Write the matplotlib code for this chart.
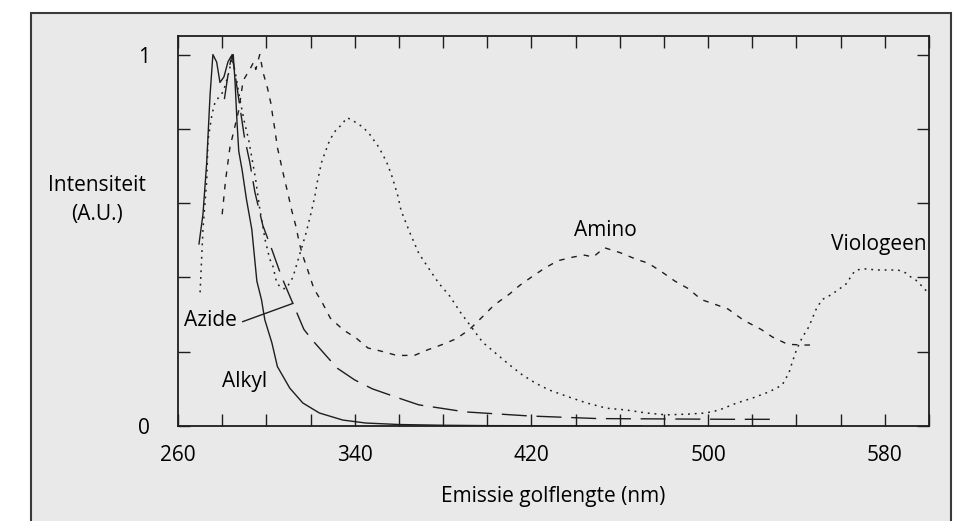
import matplotlib
matplotlib.use("Agg")
import matplotlib.pyplot as plt
from matplotlib.patches import Rectangle
import numpy as np

# emission spectra (wavelength in nm, normalised intensity)
alkyl_nm = [269.5, 271.3, 273, 274.5, 275.8, 277.5, 279, 280.8, 282.6, 284, 285, 285.8, 286.7,
            287.5, 289, 291, 293.4, 295.7, 297.8, 299.3, 302.5, 305, 310.6, 316.5, 324, 334.6,
            345, 360, 380, 400, 470]
alkyl = [0.49, 0.57, 0.71, 0.89, 1.0, 0.98, 0.925, 0.94, 0.98, 0.995, 1.0, 0.93, 0.82,
         0.74, 0.69, 0.61, 0.53, 0.39, 0.34, 0.286, 0.224, 0.16, 0.102, 0.062, 0.035, 0.016,
         0.008, 0.004, 0.002, 0.001, 0.0]

azide_nm = [281, 283, 284.5, 286, 288, 290, 292.5, 294.8, 298.4, 302.5, 307, 312, 317, 321,
            332, 340, 348, 361, 369, 390, 419, 450, 480, 510, 531]
azide = [0.88, 0.96, 1.0, 0.94, 0.86, 0.78, 0.71, 0.63, 0.54, 0.475, 0.40, 0.33, 0.26, 0.23,
         0.156, 0.124, 0.10, 0.073, 0.057, 0.038, 0.027, 0.02, 0.019, 0.018, 0.018]

amino_nm = [280, 281.5, 283.5, 285.5, 287.5, 289.5, 292.5, 294.3, 295.2, 297, 298.6, 300.5,
            302, 303, 303.8, 305, 306.5, 308, 310, 311.5, 313.5, 315, 316.7, 319, 321.5,
            325.5, 329, 334.6, 341, 346, 353, 359, 367, 373, 380, 386, 392, 398, 403, 410,
            415, 421, 426, 432, 439, 444, 448, 453, 460, 467, 473, 479, 485, 491, 497, 502,
            509, 516, 524, 529, 536, 543, 549]
amino = [0.57, 0.66, 0.75, 0.80, 0.85, 0.93, 0.96, 0.98, 0.96, 1.0, 0.95, 0.91,
         0.87, 0.83, 0.80, 0.75, 0.71, 0.67, 0.62, 0.58, 0.535, 0.49, 0.455, 0.415, 0.37,
         0.33, 0.29, 0.26, 0.235, 0.21, 0.20, 0.19, 0.19, 0.205, 0.22, 0.235, 0.26, 0.295,
         0.325, 0.355, 0.38, 0.405, 0.425, 0.445, 0.455, 0.46, 0.455, 0.48, 0.467, 0.45,
         0.438, 0.415, 0.39, 0.37, 0.34, 0.33, 0.315, 0.285, 0.26, 0.24, 0.22, 0.218, 0.218]

viol_nm = [270, 271.3, 273, 273.6, 275.4, 276.7, 279, 280.5, 282.5, 284.5, 286, 288, 290, 292,
           293.5, 295, 297, 299.5, 301.5, 303, 304.7, 307, 309, 312, 314, 316, 318, 320.5,
           322, 323, 325, 326.5, 328.7, 331.8, 334, 336.4, 338.5, 341, 343.7, 346.8, 351,
           354.5, 357, 359.5, 361, 365, 369, 374, 378, 383, 388, 393, 398, 404, 410, 416,
           422, 428, 436, 445, 454, 463, 472, 481, 491, 499, 505, 513, 520, 527.6, 533.5,
           536.6, 538, 540, 542.5, 545.6, 548.8, 551.5, 555.6, 559, 563, 565, 567, 571,
           576.5, 582, 586, 589.5, 592, 594, 597.6, 600]
viol = [0.36, 0.53, 0.66, 0.77, 0.84, 0.87, 0.89, 0.90, 0.94, 0.99, 0.95, 0.88, 0.82, 0.77,
        0.72, 0.67, 0.585, 0.50, 0.45, 0.43, 0.385, 0.37, 0.37, 0.40, 0.44, 0.48, 0.52, 0.58,
        0.62, 0.655, 0.71, 0.735, 0.77, 0.80, 0.81, 0.83, 0.825, 0.815, 0.805, 0.785, 0.75,
        0.71, 0.67, 0.62, 0.58, 0.52, 0.465, 0.42, 0.385, 0.35, 0.305, 0.265, 0.225, 0.195,
        0.165, 0.137, 0.115, 0.097, 0.08, 0.062, 0.048, 0.043, 0.035, 0.03, 0.032, 0.035,
        0.043, 0.062, 0.075, 0.092, 0.11, 0.143, 0.17, 0.205, 0.237, 0.267, 0.313, 0.34,
        0.353, 0.367, 0.385, 0.407, 0.42, 0.423, 0.42, 0.42, 0.42, 0.412, 0.40, 0.393,
        0.372, 0.355]

x_ticks = list(range(260, 601, 20))
x_labeled = [260, 340, 420, 500, 580]
y_ticks = [0, 0.2, 0.4, 0.6, 0.8, 1.0]
y_labeled = {0: "0", 1.0: "1"}

bg = "#e9e9e9"
ink = "#1e1e1e"

plt.rcParams["font.family"] = ["Open Sans", "DejaVu Sans"]
plt.rcParams["font.size"] = 15

fig = plt.figure(figsize=(9.69, 5.21), dpi=100, facecolor="white")

# grey panel with a frame, open at the bottom
panel = Rectangle((31 / 969, -0.05), (951 - 31) / 969, 1.05 - 13 / 521,
                  transform=fig.transFigure, facecolor=bg, edgecolor="#3a3a3a",
                  lw=1.5, zorder=-10)
fig.patches.append(panel)

ax = fig.add_axes([178 / 969, 95 / 521, 751 / 969, 390 / 521])
ax.set_facecolor(bg)

ax.plot(alkyl_nm, alkyl, color=ink, lw=1.0, ls="-")
ax.plot(azide_nm, azide, color=ink, lw=1.0, ls=(0, (18, 7)))
ax.plot(amino_nm, amino, color=ink, lw=1.0, ls=(0, (4, 5)))
ax.plot(viol_nm, viol, color=ink, lw=1.1, ls=(0, (1.2, 3.2)))

ax.set_xlim(260, 600)
ax.set_ylim(0, 1.05)

ax.set_xticks(x_ticks)
ax.set_xticklabels([str(t) if t in x_labeled else "" for t in x_ticks])
ax.set_yticks(y_ticks)
ax.set_yticklabels([y_labeled.get(t, "") for t in y_ticks])
ax.tick_params(direction="in", length=8.5, width=1.0, color=ink,
               top=True, right=True, labelsize=15)
ax.tick_params(axis="x", pad=14)
ax.tick_params(axis="y", pad=20)
for s in ax.spines.values():
    s.set_linewidth(1.3)
    s.set_color(ink)

ax.set_xlabel("Emissie golflengte (nm)", fontsize=15, labelpad=14)
fig.text(97 / 969, 1 - 200 / 521, "Intensiteit\n(A.U.)", ha="center", va="center",
         fontsize=15, linespacing=1.55)

# curve names
ax.text(453.4, 0.526, "Amino", ha="center", va="center", fontsize=15)
ax.text(599, 0.488, "Viologeen", ha="right", va="center", fontsize=15)
ax.text(274.5, 0.283, "Azide", ha="center", va="center", fontsize=15)
ax.text(290, 0.119, "Alkyl", ha="center", va="center", fontsize=15)
ax.plot([289.3, 312], [0.281, 0.33], color=ink, lw=1.0)

fig.savefig("out.png", dpi=100, facecolor="white")
